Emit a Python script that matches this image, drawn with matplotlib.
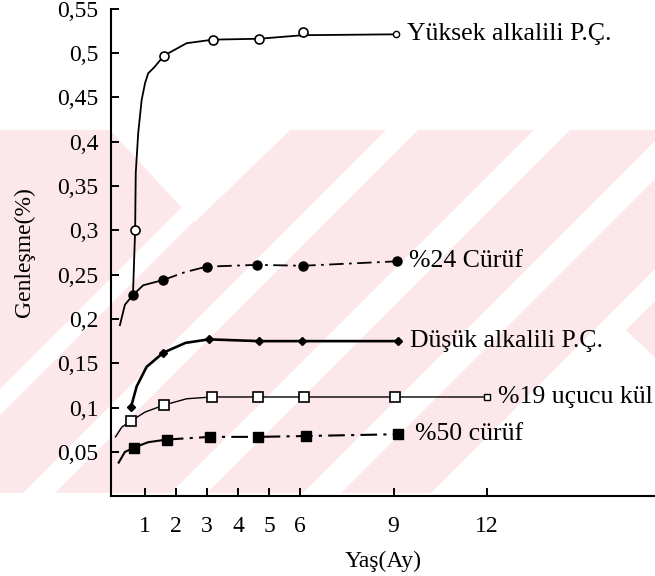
import matplotlib
matplotlib.use("Agg")
import matplotlib.pyplot as plt
from matplotlib.patches import Polygon, Rectangle
import numpy as np

plt.rcParams['font.family'] = ['Liberation Serif', 'DejaVu Serif']

# ---------------- data ----------------
x_ticks = [1, 2, 3, 4, 5, 6, 9, 12]
x_ticklabels = ["1", "2", "3", "4", "5", "6", "9", "12"]
y_ticks = [0.05, 0.1, 0.15, 0.2, 0.25, 0.3, 0.35, 0.4, 0.45, 0.5, 0.55]
y_ticklabels = ["0,05", "0,1", "0,15", "0,2", "0,25", "0,3", "0,35", "0,4", "0,45", "0,5", "0,55"]

labels = ["Yüksek alkalili P.Ç.", "%24 Cürüf", "Düşük alkalili P.Ç.", "%19 uçucu kül", "%50 cürüf"]

# marker points
yuksek_mx = [0.68, 1.61, 3.19, 4.67, 6.08, 9.08]
yuksek_my = [0.300, 0.497, 0.515, 0.516, 0.524, 0.521]
curuf24_mx = [0.61, 1.59, 2.99, 4.60, 6.08, 9.11]
curuf24_my = [0.227, 0.244, 0.259, 0.261, 0.260, 0.265]
dusuk_mx = [0.55, 1.59, 3.06, 4.67, 6.05, 9.14]
dusuk_my = [0.101, 0.162, 0.177, 0.175, 0.175, 0.175]
kul19_mx = [0.55, 1.62, 3.14, 4.64, 6.12, 9.05, 12.0]
kul19_my = [0.085, 0.103, 0.112, 0.112, 0.112, 0.112, 0.112]
curuf50_mx = [0.65, 1.70, 3.09, 4.64, 6.18, 9.14]
curuf50_my = [0.055, 0.064, 0.067, 0.067, 0.068, 0.070]

# traced curves (drawn lines)
yuksek_cx = [0.61, 0.68, 0.70, 0.78, 0.89, 1.00, 1.10, 1.30, 1.61, 2.34, 3.19, 4.67, 6.08, 9.08]
yuksek_cy = [0.227, 0.300, 0.365, 0.410, 0.447, 0.466, 0.477, 0.484, 0.497, 0.511, 0.515, 0.516, 0.520, 0.521]
curuf24_cx = [0.19, 0.35, 0.61, 0.94, 1.59, 2.30, 2.99, 4.60, 6.08, 9.11]
curuf24_cy = [0.193, 0.216, 0.227, 0.238, 0.244, 0.253, 0.259, 0.261, 0.260, 0.265]
dusuk_cx = [0.55, 0.73, 1.05, 1.59, 2.30, 3.06, 4.67, 6.05, 9.14]
dusuk_cy = [0.101, 0.124, 0.146, 0.162, 0.173, 0.177, 0.175, 0.175, 0.175]
kul19_cx = [0.05, 0.25, 0.55, 1.00, 1.62, 2.34, 3.14, 4.64, 6.12, 9.05, 12.0]
kul19_cy = [0.067, 0.078, 0.085, 0.095, 0.103, 0.110, 0.112, 0.112, 0.112, 0.112, 0.112]
curuf50_cx = [0.15, 0.35, 0.65, 1.10, 1.70, 3.09, 4.64, 6.18, 9.14]
curuf50_cy = [0.038, 0.050, 0.055, 0.061, 0.064, 0.067, 0.067, 0.068, 0.070]

# ---------------- figure ----------------
W, H = 655, 576
fig = plt.figure(figsize=(W / 100, H / 100), dpi=100)

# background watermark (pale pink with white diagonal stripes), pixel coordinates
bg = fig.add_axes([0, 0, 1, 1], zorder=0)
bg.set_xlim(0, W)
bg.set_ylim(H, 0)
bg.axis('off')
pink = '#fce8eb'
bg.add_patch(Rectangle((0, 130), W, 363, facecolor=pink, edgecolor='none'))

def slash_stripe(c, w, y0=130, y1=493):
    # white band along x + y = c with horizontal width w
    return Polygon([(c - y0 - w / 2, y0), (c - y0 + w / 2, y0),
                    (c - y1 + w / 2, y1), (c - y1 - w / 2, y1)],
                   closed=True, facecolor='white', edgecolor='none')

for c, w in [(402, 26), (532, 32), (682, 36), (815, 38), (940, 32)]:
    bg.add_patch(slash_stripe(c, w))
# white V at upper left
bg.add_patch(Polygon([(110, 130), (290, 130), (195, 222)], closed=True,
                     facecolor='white', edgecolor='none'))
# white wedge at lower right
bg.add_patch(Polygon([(615, 320), (800, 493), (455, 493)], closed=True,
                     facecolor='white', edgecolor='none'))

# main axes
x0_px, xaxis_px, top_px = 111, 496.3, 8.6
ax = fig.add_axes([x0_px / W, (H - xaxis_px) / H, (W - x0_px) / W, (xaxis_px - top_px) / H], zorder=1)
ax.patch.set_alpha(0)
ax.set_xlim(-0.097, 17.42)
ax.set_ylim(0, 0.55)

for s in ['top', 'right']:
    ax.spines[s].set_visible(False)
for s in ['left', 'bottom']:
    ax.spines[s].set_linewidth(1.5)

ax.set_xticks(x_ticks)
ax.set_xticklabels(x_ticklabels)
ax.set_yticks(y_ticks)
ax.set_yticklabels(y_ticklabels)
ax.tick_params(axis='both', direction='in', length=6, width=1.4, labelsize=17)
ax.tick_params(axis='x', pad=14)
ax.tick_params(axis='y', pad=9)

ax.set_xlabel("Yaş(Ay)", fontsize=17, labelpad=10)
ax.set_ylabel("Genleşme(%)", fontsize=17, labelpad=16)

dash = (0, (8, 3, 1.5, 3))
K = 'black'

def split_draw(cx, cy, xsplit, lw, dashed):
    cx = np.asarray(cx); cy = np.asarray(cy)
    if dashed:
        m1 = cx <= xsplit + 1e-9
        m2 = cx >= xsplit - 1e-9
        ax.plot(cx[m1], cy[m1], color=K, lw=lw, zorder=3)
        ax.plot(cx[m2], cy[m2], color=K, lw=lw, ls=dash, zorder=3)
    else:
        ax.plot(cx, cy, color=K, lw=lw, zorder=3)

# Yüksek alkalili P.Ç.
split_draw(yuksek_cx, yuksek_cy, None, 1.3, False)
ax.plot(yuksek_mx[:-1], yuksek_my[:-1], 'o', ms=6.5, mfc='white', mec=K, mew=1.2, zorder=4)
ax.plot(yuksek_mx[-1:], yuksek_my[-1:], 'o', ms=4.5, mfc='white', mec=K, mew=1.0, zorder=4)

# %24 Cürüf
split_draw(curuf24_cx, curuf24_cy, curuf24_mx[1], 1.3, True)
ax.plot(curuf24_mx, curuf24_my, 'o', ms=6.5, mfc=K, mec=K, zorder=4)

# Düşük alkalili P.Ç.
split_draw(dusuk_cx, dusuk_cy, None, 1.9, False)
ax.plot(dusuk_mx, dusuk_my, 'D', ms=4.2, mfc=K, mec=K, zorder=4)

# %19 uçucu kül
split_draw(kul19_cx, kul19_cy, None, 1.0, False)
ax.plot(kul19_mx[:-1], kul19_my[:-1], 's', ms=7, mfc='white', mec=K, mew=1.2, zorder=4)
ax.plot(kul19_mx[-1:], kul19_my[-1:], 's', ms=5, mfc='white', mec=K, mew=1.0, zorder=4)

# %50 cürüf
split_draw(curuf50_cx, curuf50_cy, curuf50_mx[1], 1.5, True)
ax.plot(curuf50_mx, curuf50_my, 's', ms=7.5, mfc=K, mec=K, zorder=4)

# end labels
ends = [(yuksek_mx[-1], yuksek_my[-1], 8),
        (curuf24_mx[-1], curuf24_my[-1], 9),
        (dusuk_mx[-1], dusuk_my[-1], 9),
        (kul19_mx[-1], kul19_my[-1], 8),
        (curuf50_mx[-1], curuf50_my[-1], 12)]
for (ex, ey, off), lab in zip(ends, labels):
    ax.annotate(lab, (ex, ey), xytext=(off, 0), textcoords='offset points',
                ha='left', va='center', fontsize=18.5, annotation_clip=False)

fig.savefig("out.png", dpi=100)
